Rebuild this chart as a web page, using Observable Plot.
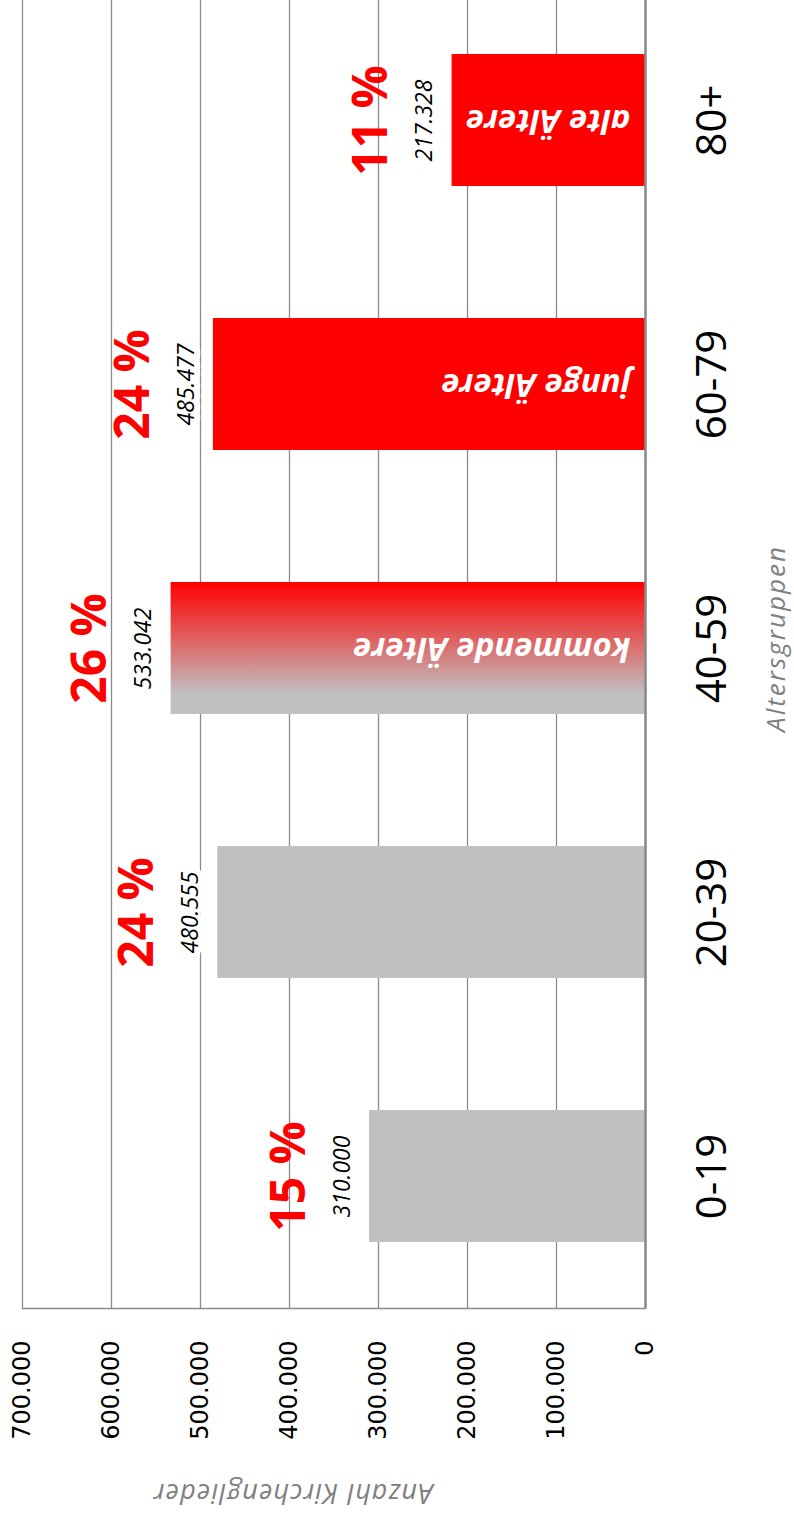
<!DOCTYPE html>
<html>
<head>
<meta charset="utf-8">
<script src="https://cdn.jsdelivr.net/npm/d3@7"></script>
<script src="https://cdn.jsdelivr.net/npm/@observablehq/plot@0.6"></script>
<style>
  html, body { margin: 0; padding: 0; background: #ffffff; }
  #chart { width: 794px; height: 1522px; overflow: hidden; }
  .x-title text { letter-spacing: 1.1px; }
  .y-title text { letter-spacing: 2px; }
</style>
</head>
<body>
<div id="chart"></div>
<script>
// ---- data ----
const categories = ["0-19", "20-39", "40-59", "60-79", "80+"];
const members = [310000, 480555, 533042, 485477, 217328];
const shares = ["15 %", "24 %", "26 %", "24 %", "11 %"];
const groupLabels = ["", "", "kommende Ältere", "junge Ältere", "alte Ältere"];
const groupKinds = ["jung", "jung", "kommend", "alt", "alt"];
const xTicks = [0, 100000, 200000, 300000, 400000, 500000, 600000, 700000];
const xTitle = "Anzahl Kirchenglieder";
const yTitle = "Altersgruppen";

// ---- styles ----
const fills = { jung: "#c0c0c0", kommend: "url(#kommendGrad)", alt: "#ff0000" };
const gridColor = "#8a8a8a";
const fmt = d3.formatLocale({ decimal: ",", thousands: ".", grouping: [3], currency: ["", " €"] }).format(",d");

const rows = categories.map((c, i) => ({
  category: c,
  members: members[i],
  share: shares[i],
  label: groupLabels[i],
  kind: groupKinds[i]
}));

const chart = Plot.plot({
  width: 794,
  height: 1522,
  marginLeft: 22,
  marginRight: 149,
  marginTop: 0,
  marginBottom: 214,
  style: { fontFamily: "'Open Sans', sans-serif", background: "#ffffff" },
  x: { domain: [0, 700000], reverse: true },
  y: { domain: [...categories].reverse(), range: [-12, 1308], paddingInner: 0.5, paddingOuter: 0.25, axis: null },
  color: { type: "identity" },
  marks: [
    Plot.gridX({ ticks: xTicks, stroke: gridColor, strokeOpacity: 1, strokeWidth: 1.3 }),
    Plot.frame({ anchor: "bottom", stroke: gridColor, strokeWidth: 1.6 }),
    Plot.barX(rows, { x: "members", y: "category", fill: d => fills[d.kind] }),
    Plot.ruleX([0], { stroke: gridColor, strokeWidth: 2.5 }),
    Plot.axisX({
      anchor: "bottom",
      ticks: xTicks,
      tickFormat: fmt,
      tickRotate: -90,
      tickSize: 0,
      tickPadding: 32,
      fontSize: 24,
      fontFamily: "'DejaVu Sans', sans-serif",
      fill: "#000000",
      label: null
    }),
    // labels inside bars
    Plot.text(rows.filter(d => d.label), {
      x: 0, y: "category", text: "label", rotate: 180, textAnchor: "start",
      dx: -15, fill: "#ffffff", fontWeight: "bold", fontStyle: "italic", fontSize: 33
    }),
    // member counts
    Plot.text(rows, {
      x: "members", y: "category", text: d => fmt(d.members), rotate: -90, dx: -27,
      fill: "#000000", fontStyle: "italic", fontSize: 23, stroke: "#ffffff", strokeWidth: 12
    }),
    // percentage shares
    Plot.text(rows, {
      x: "members", y: "category", text: "share", rotate: -90, dx: -80,
      fill: "#ff0000", fontWeight: "bold", fontSize: 48
    }),
    // category labels
    Plot.text(rows, {
      x: 0, y: "category", text: "category", rotate: -90, dx: 67,
      fill: "#000000", fontSize: 42
    }),
    // axis titles
    Plot.text([yTitle], {
      className: "y-title",
      frameAnchor: "right", textAnchor: "middle", lineAnchor: "middle", rotate: -90, dx: 131, dy: -16,
      fill: "#808080", fontStyle: "italic", fontSize: 26
    }),
    Plot.text([xTitle], {
      className: "x-title",
      frameAnchor: "bottom", textAnchor: "middle", lineAnchor: "middle", rotate: 180, dx: -41, dy: 184,
      fill: "#808080", fontStyle: "italic", fontSize: 27
    })
  ]
});

document.getElementById("chart").appendChild(chart);

// gradient for the "kommende Ältere" bar
const svgEl = chart.tagName.toLowerCase() === "svg" ? chart : chart.querySelector("svg");
const defs = d3.select(svgEl).insert("defs", ":first-child");
const grad = defs.append("linearGradient")
  .attr("id", "kommendGrad")
  .attr("x1", 0).attr("y1", 0).attr("x2", 0).attr("y2", 1);
grad.append("stop").attr("offset", "0%").attr("stop-color", "#ff0000");
grad.append("stop").attr("offset", "85%").attr("stop-color", "#c0c0c0");
grad.append("stop").attr("offset", "100%").attr("stop-color", "#c0c0c0");
</script>
</body>
</html>
